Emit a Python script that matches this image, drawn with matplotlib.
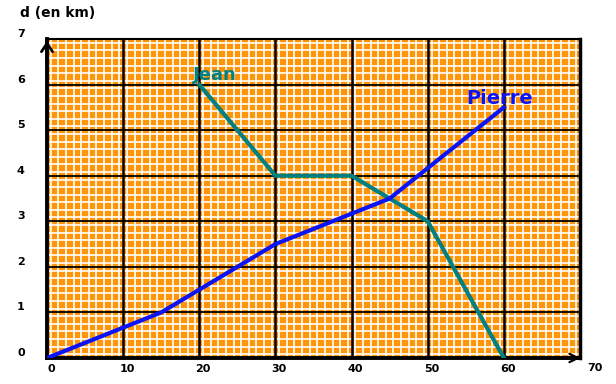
import matplotlib.pyplot as plt
import numpy as np
from matplotlib.transforms import ScaledTranslation

# données
x_jean = [20, 30, 40, 50, 60]
d_jean = [6, 4, 4, 3, 0]
x_pierre = [0, 15, 30, 45, 60]
d_pierre = [0, 1, 2.5, 3.5, 5.5]
x_ticks = [0, 10, 20, 30, 40, 50, 60]
y_ticks = [0, 1, 2, 3, 4, 5, 6, 7]

ORANGE = '#ff9408'
TEAL = '#008080'
BLUE = '#0a14f5'

fig = plt.figure(figsize=(6.16, 3.84), dpi=100)
ax = fig.add_axes([47 / 616, 1 - 358 / 384, 533 / 616, 319 / 384])
ax.set_xlim(0, 70)
ax.set_ylim(0, 7)
ax.set_facecolor(ORANGE)

# papier millimétré : lignes blanches fines
for xv in np.arange(0.5, 70, 1.0):
    ax.axvline(xv, color='white', lw=1.2, zorder=1)
for yv in np.arange(1 / 12, 7, 1 / 6):
    ax.axhline(yv, color='white', lw=1.2, zorder=1)

# quadrillage principal noir
for xv in range(10, 70, 10):
    ax.axvline(xv, color='black', lw=1.8, zorder=2)
for yv in range(1, 7):
    ax.axhline(yv, color='black', lw=1.3, zorder=2)

for side in ['left', 'bottom']:
    ax.spines[side].set_linewidth(2.8)
ax.spines['right'].set_linewidth(2.5)
ax.spines['top'].set_linewidth(1.5)
for s in ax.spines.values():
    s.set_zorder(3)

ax.plot(x_jean, d_jean, color=TEAL, lw=3, zorder=4, solid_joinstyle='miter')
ax.plot(x_pierre, d_pierre, color=BLUE, lw=3, zorder=4)

ax.text(22.0, 6.2, 'Jean', color=TEAL, fontsize=13, fontweight='bold',
        ha='center', va='center', zorder=5)
ax.text(59.5, 5.7, 'Pierre', color=BLUE, fontsize=14, fontweight='bold',
        ha='center', va='center', zorder=5)

ax.set_xticks(x_ticks)
ax.set_xticklabels([str(v) for v in x_ticks], fontsize=8, fontweight='bold')
ax.set_yticks(y_ticks)
ax.set_yticklabels([str(v) for v in y_ticks], fontsize=8, fontweight='bold')
ax.tick_params(length=0)
ax.tick_params(axis='x', pad=4)
ax.tick_params(axis='y', pad=16)
for lab in ax.get_yticklabels():
    lab.set_transform(lab.get_transform() + ScaledTranslation(0, 6 / 100, fig.dpi_scale_trans))
for lab in ax.get_xticklabels():
    lab.set_transform(lab.get_transform() + ScaledTranslation(4 / 100, 0, fig.dpi_scale_trans))

ax.text(72.0, 0, '70', fontsize=8, fontweight='bold', ha='center', va='top',
        transform=ax.transData + ScaledTranslation(0, -5 / 100, fig.dpi_scale_trans),
        clip_on=False)

# flèches des axes
ax.annotate('', xy=(0, 7.02), xytext=(0, 6.5),
            arrowprops=dict(arrowstyle='->,head_length=0.6,head_width=0.4', lw=2, color='black'),
            annotation_clip=False, zorder=6)
ax.annotate('', xy=(70.4, 0), xytext=(66, 0),
            arrowprops=dict(arrowstyle='->,head_length=0.6,head_width=0.3', lw=1.6, color='black'),
            annotation_clip=False, zorder=6)

fig.text(20 / 616, 1 - 13 / 384, 'd (en km)', fontsize=10, fontweight='bold', va='center')

fig.savefig('out.png', dpi=100)
